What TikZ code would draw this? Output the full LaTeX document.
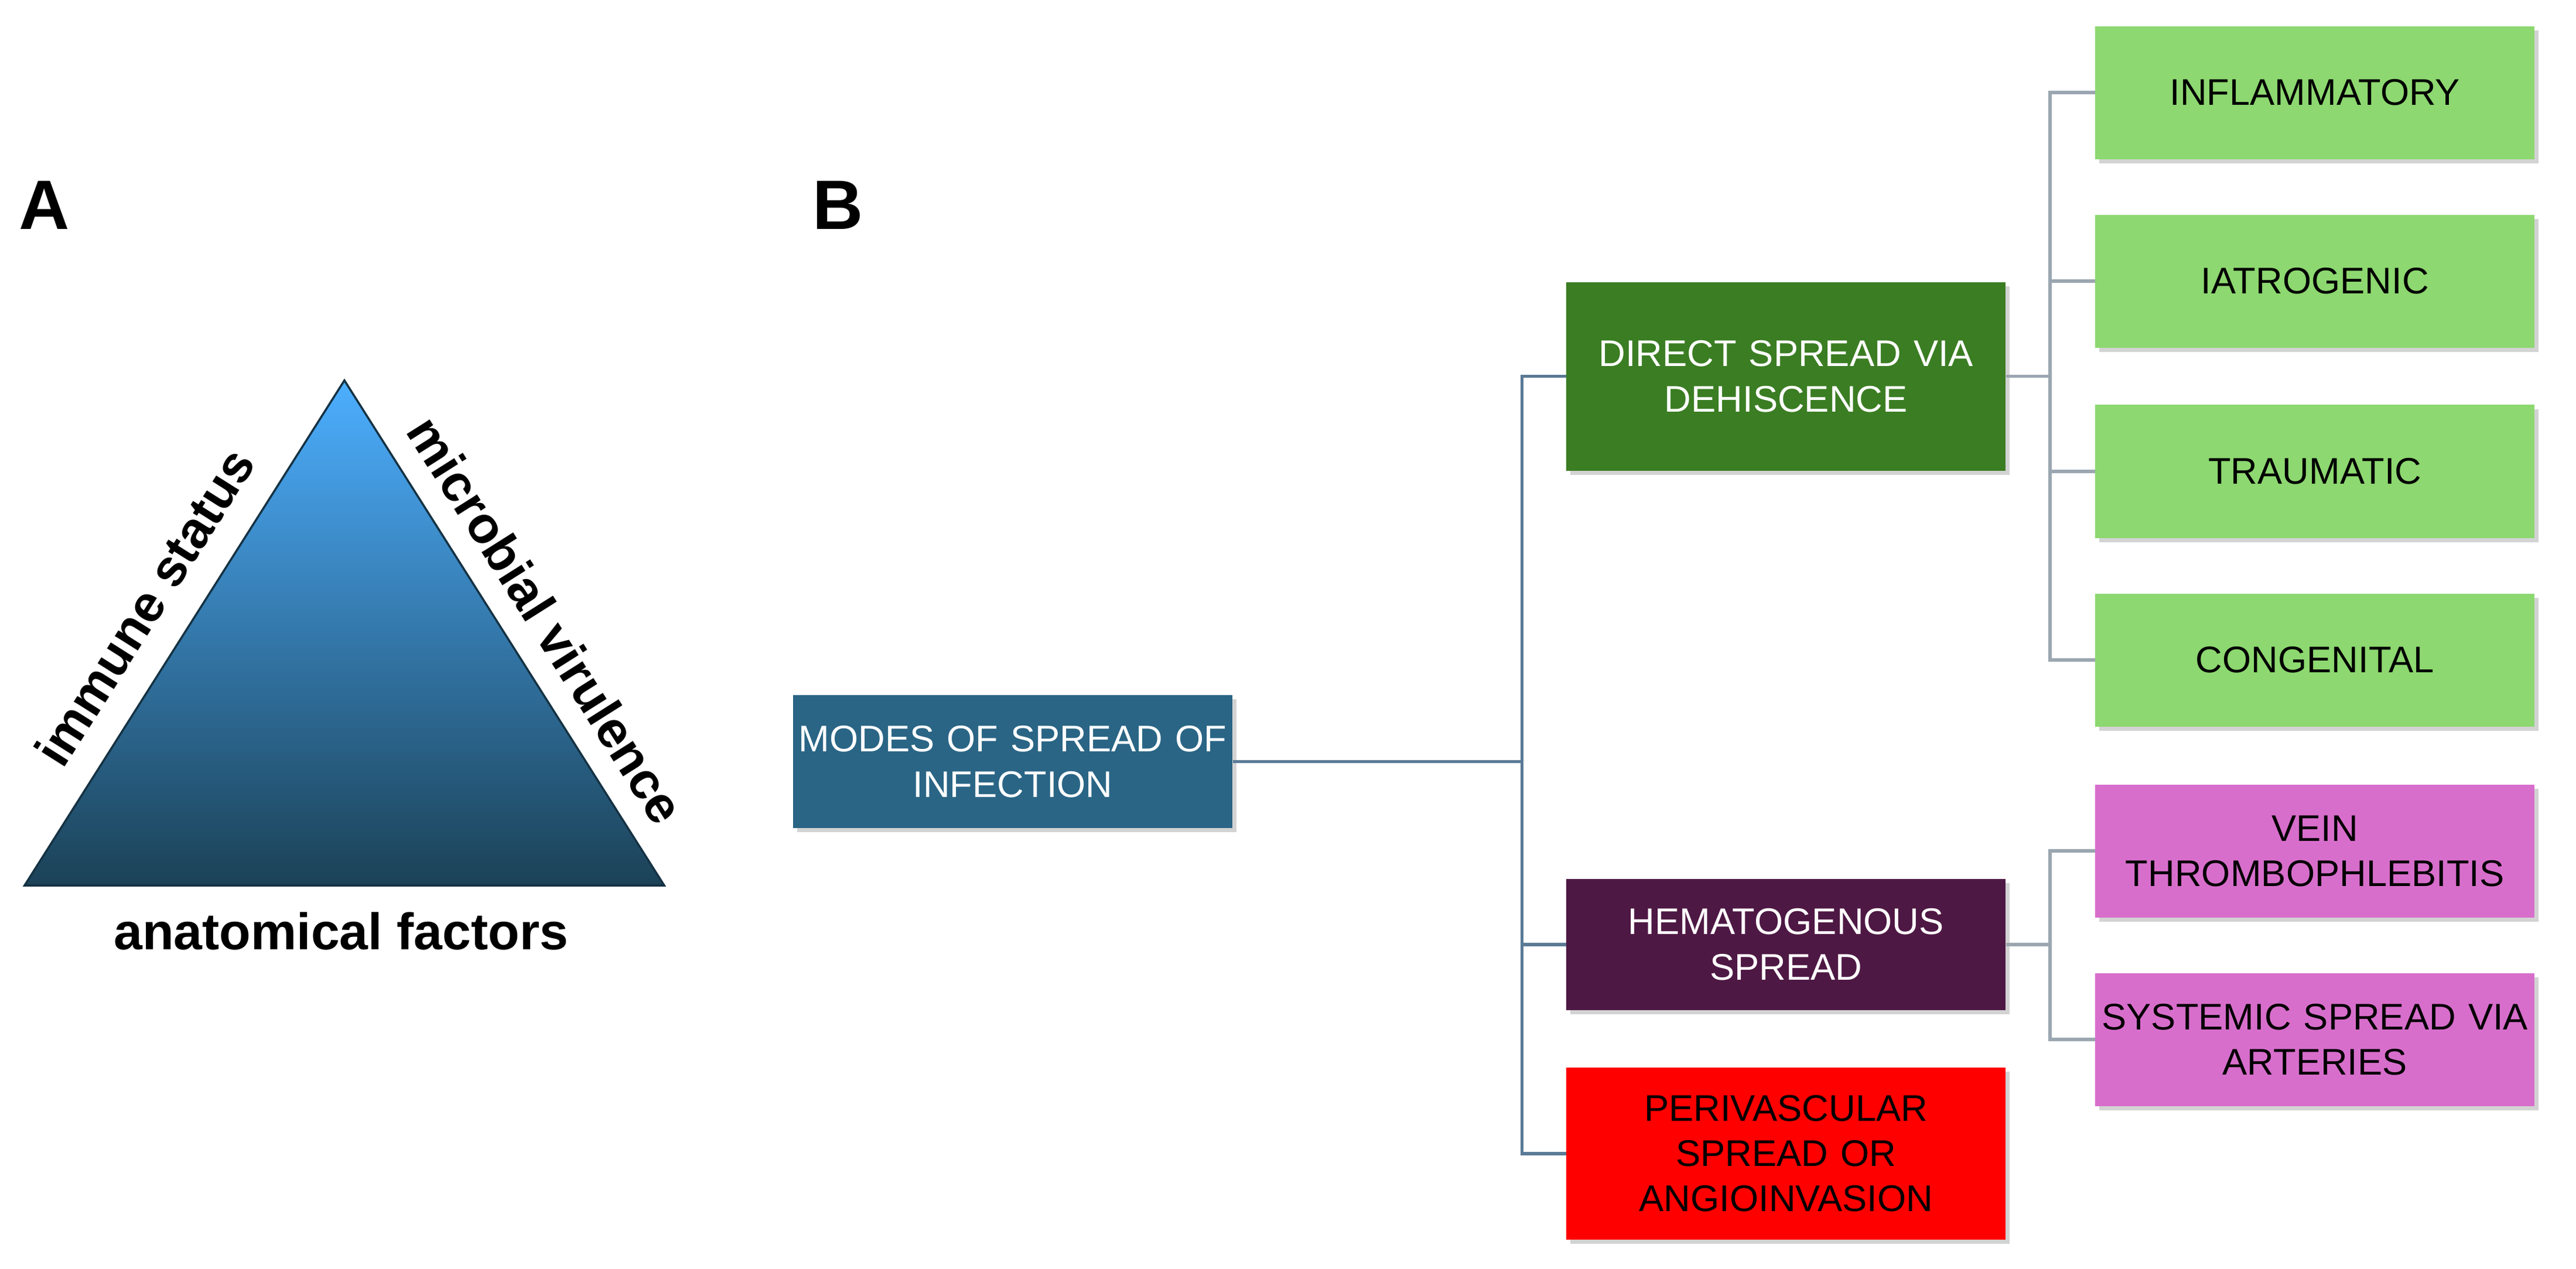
\documentclass[tikz,border=0pt]{standalone}
\usepackage{fontspec}
\setmainfont{Liberation Sans}
\usetikzlibrary{shadows}
\definecolor{trunk}{HTML}{5A7A96}
\definecolor{twig}{HTML}{9AA6B0}
\definecolor{modesc}{HTML}{2A6585}
\definecolor{directc}{HTML}{3B7D23}
\definecolor{hemac}{HTML}{4E1844}
\definecolor{leafg}{HTML}{8DD870}
\definecolor{leafm}{HTML}{D86ECC}
\begin{document}
\begin{tikzpicture}[x=0.028cm,y=-0.028cm,
box/.style={rectangle, minimum width=7.5cm, text width=7.5cm, align=center, inner xsep=0pt, inner ysep=1pt,
  font=\fontsize{18}{22}\selectfont, drop shadow={shadow xshift=2pt,shadow yshift=-2pt,opacity=0.35}},
leaf/.style={box, minimum height=2.27cm, text=black},
conn/.style={line width=1.6pt, color=trunk},
twigl/.style={line width=1.6pt, color=twig},
lab/.style={font=\fontsize{25}{30}\selectfont\bfseries}]
\useasboundingbox (0,0) rectangle (1570.7,773.6);
% panel A
\node[font=\fontsize{34}{40}\selectfont\bfseries] (la) at (27,125) {A};
\node[font=\fontsize{34}{40}\selectfont\bfseries] (lb) at (511,125) {B};
\shade[top color=cyan!55!blue!70!white, bottom color=modesc!65!black, draw=modesc!50!black, line width=1pt]
  (210,232) -- (405,540) -- (15,540) -- cycle;
\node[lab, rotate=57.7] (imm) at (88,370) {immune status};
\node[lab, rotate=-57.7] (mic) at (333,378) {microbial virulence};
\node[lab] (ana) at (208,568) {anatomical factors};
% panel B
\node[box, fill=modesc, text=white, minimum height=2.27cm] (modes) at (617.5,464.5) {MODES OF SPREAD OF\\INFECTION};
\node[box, fill=directc, text=white, minimum height=3.22cm] (direct) at (1089,229.5) {DIRECT SPREAD VIA\\DEHISCENCE};
\node[box, fill=hemac, text=white, minimum height=2.24cm] (hema) at (1089,576) {HEMATOGENOUS\\SPREAD};
\node[box, fill=red, text=black, minimum height=2.94cm] (peri) at (1089,703.5) {PERIVASCULAR\\SPREAD OR\\ANGIOINVASION};
\node[leaf, fill=leafg] (g1) at (1411.5,56.5) {INFLAMMATORY};
\node[leaf, fill=leafg] (g2) at (1411.5,171.5) {IATROGENIC};
\node[leaf, fill=leafg] (g3) at (1411.5,287.5) {TRAUMATIC};
\node[leaf, fill=leafg] (g4) at (1411.5,402.5) {CONGENITAL};
\node[leaf, fill=leafm] (m1) at (1411.5,519) {VEIN\\THROMBOPHLEBITIS};
\node[leaf, fill=leafm] (m2) at (1411.5,634) {SYSTEMIC SPREAD VIA\\ARTERIES};
% connectors
\coordinate (j1) at (928,464.5);
\draw[conn] (modes.east) -- (j1);
\draw[conn] (j1) |- (direct.west);
\draw[conn] (j1) |- (hema.west);
\draw[conn] (j1) |- (peri.west);
\coordinate (j2) at (1250,229.5);
\draw[twigl] (direct.east) -- (j2);
\foreach \n in {g1,g2,g3,g4} \draw[twigl] (j2) |- (\n.west);
\coordinate (j3) at (1250,576);
\draw[twigl] (hema.east) -- (j3);
\foreach \n in {m1,m2} \draw[twigl] (j3) |- (\n.west);
\end{tikzpicture}
\end{document}
